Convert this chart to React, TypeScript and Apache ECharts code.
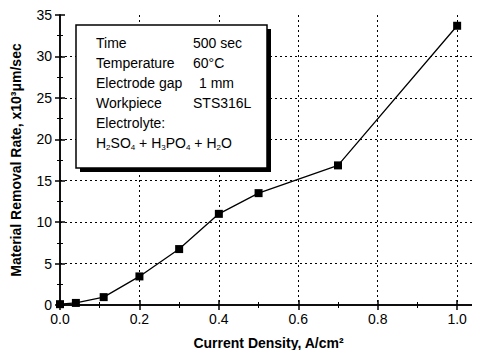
import React, { useEffect, useRef } from "react";
import * as echarts from "echarts";

const currentDensity = [0.0, 0.04, 0.11, 0.2, 0.3, 0.4, 0.5, 0.7, 1.0];
const removalRate = [0.1, 0.25, 0.95, 3.45, 6.75, 11.0, 13.5, 16.85, 33.7];
const xTickLabels = ["0.0", "0.2", "0.4", "0.6", "0.8", "1.0"];
const yTickLabels = ["0", "5", "10", "15", "20", "25", "30", "35"];
const legendKeys = ["Time", "Temperature", "Electrode gap", "Workpiece", "Electrolyte:"];
const legendValues = ["500 sec", "60\u00b0C", "1 mm", "STS316L", ""];

const FONT = "'Liberation Sans', Arial, sans-serif";

export default function App() {
  const ref = useRef<HTMLDivElement>(null);
  useEffect(() => {
    const chart = echarts.init(ref.current!, undefined, { renderer: "svg" });
    const data = currentDensity.map((x, i) => [x, removalRate[i]]);
    const axisText = { color: "#000", fontFamily: FONT, fontSize: 14 };
    const lineStyle = { color: "#000", width: 1.5 };
    const gridLine = { color: "#000", type: [2, 3], width: 1 };
    const legendChildren: any[] = [
      { type: "rect", z: 20, shape: { x: 80, y: 29, width: 191, height: 143 }, style: { fill: "#000" } },
      { type: "rect", z: 21, shape: { x: 76, y: 25, width: 191, height: 143 }, style: { fill: "#fff", stroke: "#000", lineWidth: 1.5 } },
    ];
    legendKeys.forEach((k, i) => {
      legendChildren.push({
        type: "text", z: 22, x: 96, y: 43 + i * 20,
        style: { text: k, fill: "#000", font: `14px ${FONT}`, verticalAlign: "middle" },
      });
      if (legendValues[i]) {
        legendChildren.push({
          type: "text", z: 22, x: i === 2 ? 199 : 193, y: 43 + i * 20,
          style: { text: legendValues[i], fill: "#000", font: `14px ${FONT}`, verticalAlign: "middle" },
        });
      }
    });
    legendChildren.push({
      type: "text", z: 22, x: 96, y: 143,
      style: {
        text: "H{s|2}SO{s|4} + H{s|3}PO{s|4} + H{s|2}O",
        fill: "#000", font: `14px ${FONT}`, verticalAlign: "middle",
        rich: { s: { fontSize: 8, fontFamily: FONT, verticalAlign: "bottom", padding: [8, 0, 0, 0], fill: "#000" } },
      },
    });

    chart.setOption({
      animation: false,
      backgroundColor: "#fff",
      grid: { left: 60, right: 1, top: 15, bottom: 53, show: false },
      xAxis: [
        {
          type: "value", min: 0, max: 1.05, interval: 0.2,
          name: "Current Density, A/cm\u00b2", nameLocation: "middle", nameGap: 31,
          nameTextStyle: { ...axisText, fontWeight: "bold" },
          axisLine: { lineStyle },
          axisTick: { inside: true, length: 5, lineStyle },
          minorTick: { show: true, splitNumber: 2, length: 3, lineStyle: { color: "#000" } },
          axisLabel: {
            ...axisText, margin: 7,
            formatter: (v: number) => (v > 1.001 ? "" : xTickLabels[Math.round(v / 0.2)] ?? ""),
          },
          splitLine: { show: true, showMinLine: false, showMaxLine: false, lineStyle: gridLine },
        },
        {
          type: "value", min: 0, max: 1.05, interval: 0.2, position: "top",
          axisLine: { lineStyle }, axisLabel: { show: false },
          axisTick: { inside: true, length: 5, lineStyle },
          minorTick: { show: true, splitNumber: 2, length: 3, lineStyle: { color: "#000" } },
          splitLine: { show: false },
        },
      ],
      yAxis: [
        {
          type: "value", min: 0, max: 35, interval: 5,
          name: "Material Removal Rate, x10\u00b3\u03bcm/sec", nameLocation: "middle", nameGap: 37,
          nameTextStyle: { ...axisText, fontWeight: "bold" },
          axisLine: { show: true, lineStyle },
          axisTick: { inside: true, length: 5, lineStyle },
          minorTick: { show: true, splitNumber: 2, length: 3, lineStyle: { color: "#000" } },
          axisLabel: {
            ...axisText, margin: 8,
            formatter: (v: number) => yTickLabels[Math.round(v / 5)] ?? "",
          },
          splitLine: { show: true, showMinLine: false, showMaxLine: false, lineStyle: gridLine },
        },
        {
          type: "value", min: 0, max: 35, interval: 5, position: "right",
          axisLine: { show: true, lineStyle }, axisLabel: { show: false },
          axisTick: { inside: true, length: 5, lineStyle },
          minorTick: { show: true, splitNumber: 2, length: 3, lineStyle: { color: "#000" } },
          splitLine: { show: false },
        },
      ],
      series: [
        {
          type: "line", data, xAxisIndex: 0, yAxisIndex: 0,
          symbol: "rect", symbolSize: 8, showSymbol: true,
          lineStyle: { color: "#000", width: 1.3 },
          itemStyle: { color: "#000" },
          z: 5,
        },
      ],
      graphic: [{ type: "group", children: legendChildren }],
    });
    return () => chart.dispose();
  }, []);
  return <div ref={ref} style={{ width: 480, height: 358, margin: -8 }} />;
}
